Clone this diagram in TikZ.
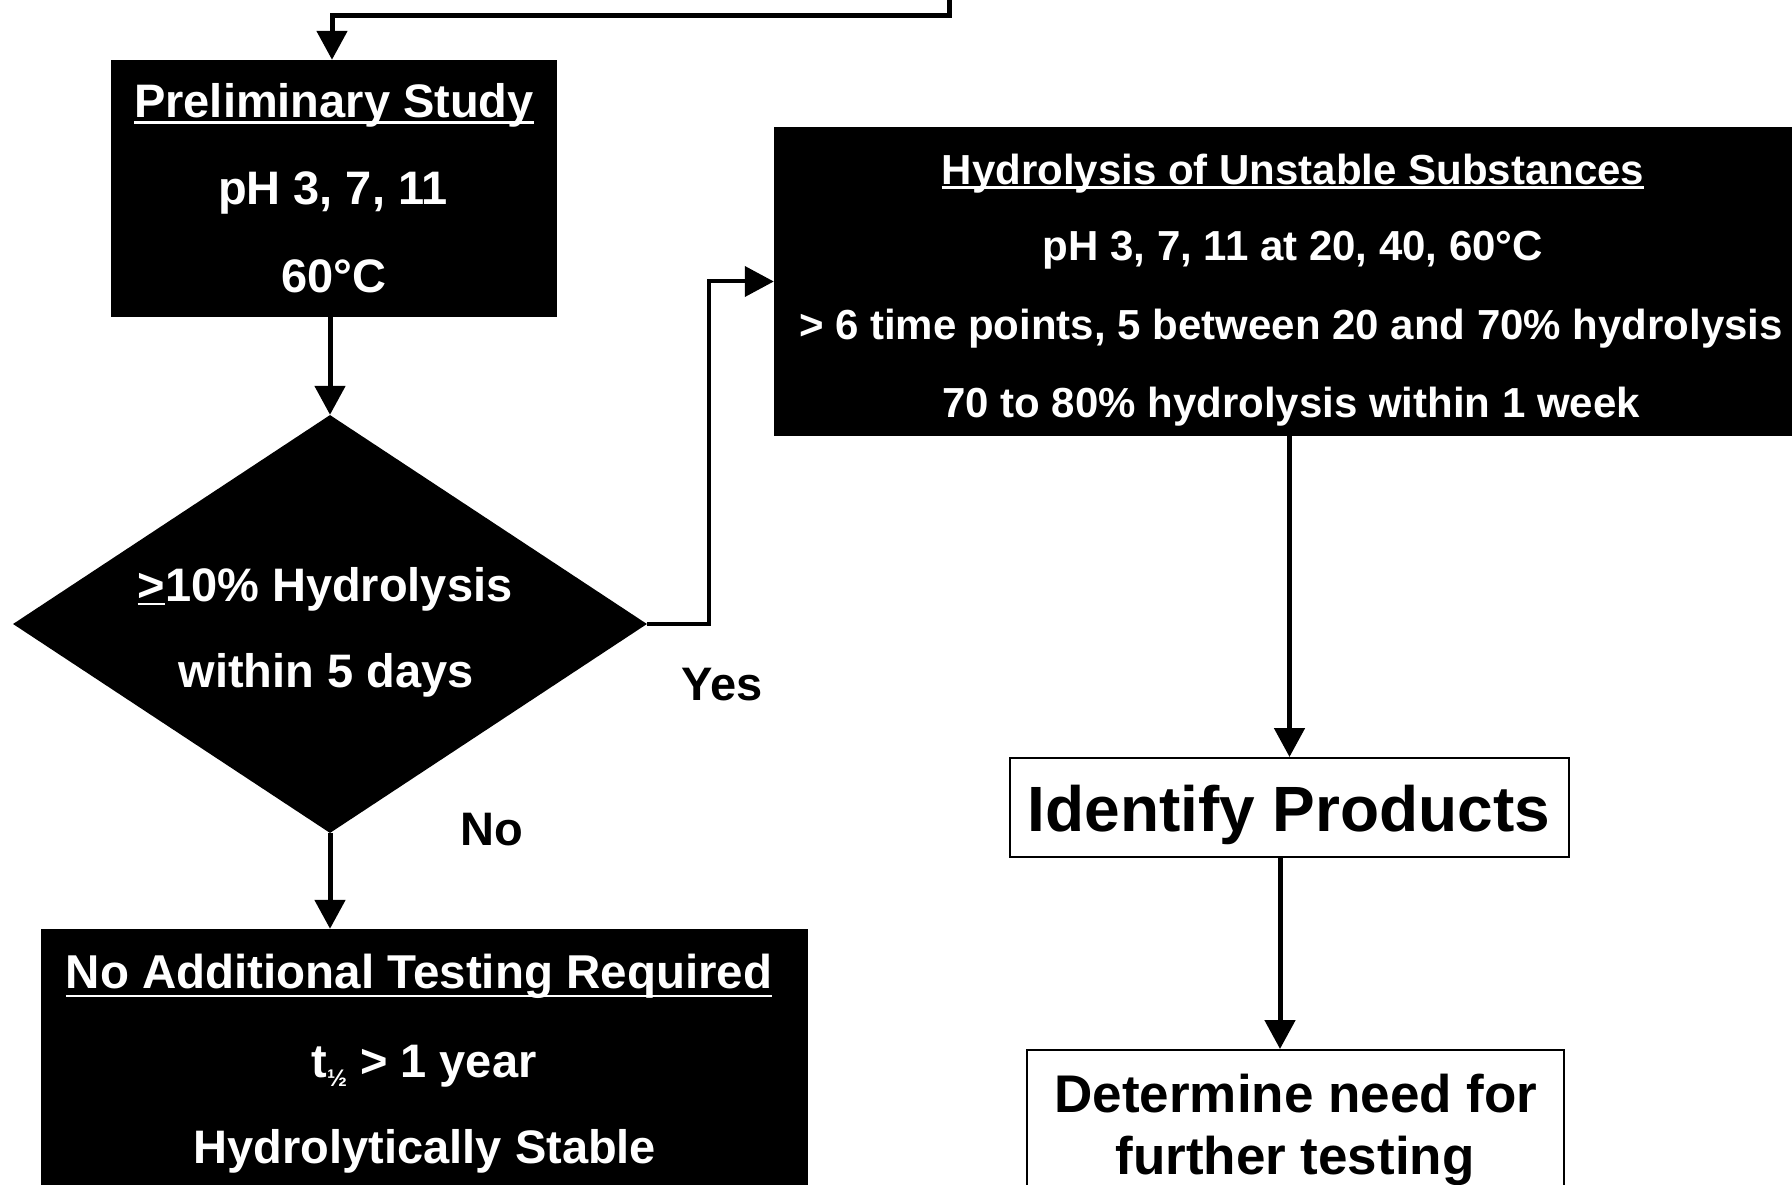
\documentclass[tikz,border=0pt]{standalone}
\usepackage{fontspec}
\setmainfont{Liberation Sans}
\usetikzlibrary{arrows.meta,shapes.geometric}
\newcommand\wul[2][6pt]{\setbox0=\hbox{#2}\rlap{\rule[-#1]{\wd0}{2.5pt}}\box0\relax}
\tikzset{
  blk/.style={rectangle, fill=black, draw=none, inner sep=0pt},
  wbox/.style={rectangle, draw=black, line width=2pt, fill=white, inner sep=0pt},
  wtxt/.style={text=white, anchor=base, inner sep=0pt, font=\bfseries\fontsize{47}{56}\selectfont},
  htxt/.style={text=white, anchor=base, inner sep=0pt, font=\bfseries\fontsize{42}{50}\selectfont},
  btxt/.style={text=black, anchor=base, inner sep=0pt, font=\bfseries\fontsize{47}{56}\selectfont},
  arr/.style={line width=5pt, -{Triangle[width=30pt,length=29pt]}},
}
\begin{document}
\begin{tikzpicture}[x=1pt,y=-1pt]
\useasboundingbox (0,0) rectangle (1792,1185);
\clip (0,0) rectangle (1792,1185);

% Preliminary study
\node[blk, minimum width=446pt, minimum height=257pt] (prelim) at (334,188.5) {};
\node[wtxt] (prelimT) at (334,118) {\wul[6pt]{Preliminary Study}};
\node[wtxt] (prelimA) at (333,205) {pH 3, 7, 11};
\node[wtxt] (prelimB) at (334,293) {60°C};

% Decision
\node[diamond, fill=black, inner sep=0pt, minimum width=634pt, minimum height=418pt] (dia) at (330,624) {};
\node[wtxt] (diaA) at (325,601) {\wul[4pt]{>}10\% Hydrolysis};
\node[wtxt] (diaB) at (326,687) {within 5 days};

% Hydrolysis of unstable substances
\node[blk, minimum width=1030pt, minimum height=309pt] (hyd) at (1289,281.5) {};
\node[htxt] (hydT) at (1293,185) {\wul[4pt]{Hydrolysis of Unstable Substances}};
\node[htxt] (hydA) at (1293,261) {pH 3, 7, 11 at 20, 40, 60°C};
\node[htxt] (hydB) at (1291,339) {> 6 time points, 5 between 20 and 70\% hydrolysis};
\node[htxt] (hydC) at (1291,417) {70 to 80\% hydrolysis within 1 week};

% Identify products
\node[wbox, minimum width=559pt, minimum height=99pt] (ident) at (1289.5,807.5) {};
\node[btxt, font=\bfseries\fontsize{64}{70}\selectfont] (identT) at (1289,831) {Identify Products};

% Determine need
\node[wbox, minimum width=537pt, minimum height=160pt] (det) at (1295.5,1130) {};
\node[btxt, font=\bfseries\fontsize{53}{60}\selectfont] (detA) at (1296,1112) {Determine need for};
\node[btxt, font=\bfseries\fontsize{53}{60}\selectfont] (detB) at (1295,1174) {further testing};

% No additional testing
\node[blk, minimum width=767pt, minimum height=280pt] (nobox) at (424.5,1069) {};
\node[wtxt, font=\bfseries\fontsize{47.5}{56}\selectfont] (noT) at (419,988) {\wul[9pt]{No Additional Testing Required}};
\node[wtxt] (noA) at (424,1077) {t\raisebox{-9pt}{\fontsize{24}{24}\selectfont ½} > 1 year};
\node[wtxt] (noB) at (425,1163) {Hydrolytically Stable};

% Labels
\node[btxt] (yesL) at (722,700) {Yes};
\node[btxt] (noL) at (492,845) {No};

% Connectors
\coordinate (topstart) at (949,-10);
\coordinate (topturn) at (949,16);
\draw[arr] (topstart) -- (topturn) -| ([xshift=-2pt]prelim.north);
\draw[arr] (prelim.south -| dia.north) -- (dia.north);
\draw[arr] (dia.south) -- (dia.south |- nobox.north);
\coordinate (yesbend) at (709,624);
\draw[arr, line width=4pt] (dia.east) -- (yesbend) |- (hyd.west);
\draw[arr] (hyd.south -| ident.north) -- (ident.north);
\draw[arr] ([xshift=-9.5pt]ident.south) -- ([xshift=-9.5pt]ident.south |- det.north);
\end{tikzpicture}
\end{document}
